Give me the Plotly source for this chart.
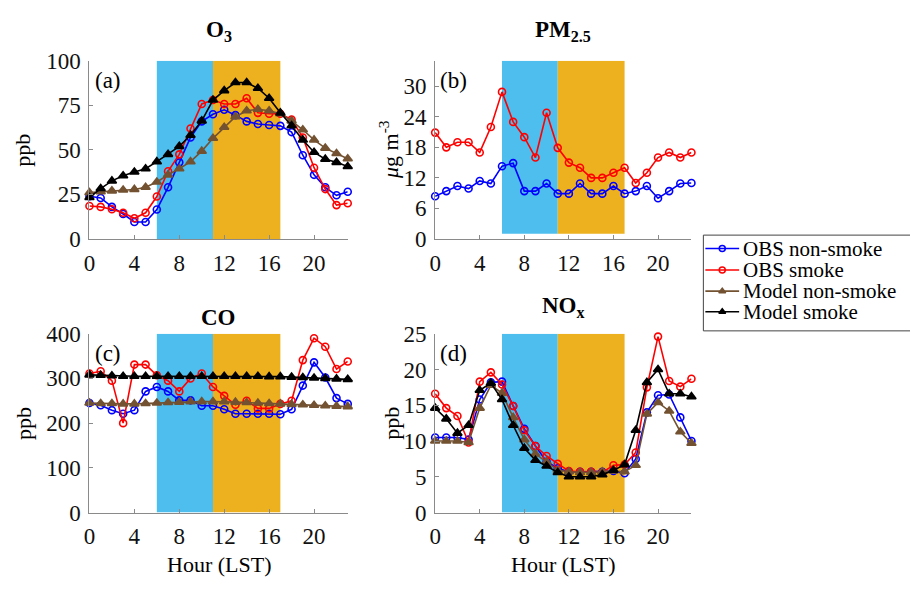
import plotly.graph_objects as go

hours = list(range(24))

# ---- O3 (ppb)
o3_obs_ns = [24, 23, 18, 14, 9.5, 9.5, 16.5, 29, 43, 57, 66, 70, 72.5, 69.5, 66, 64.5, 64, 63.5, 60, 47, 36, 29, 24.5, 26.5]
o3_obs_s = [18.5, 18, 16.7, 14.7, 11.6, 14.7, 23.8, 38, 47.5, 62, 75.8, 78, 75.8, 75.8, 79, 70.8, 70.3, 70.3, 67, 57, 40, 28, 19, 20]
o3_mod_ns = [26, 26.5, 27, 27.5, 27.8, 29, 32, 36, 39.4, 43.4, 49.3, 56.5, 62.7, 68.6, 72, 72.8, 72, 70.3, 66.3, 61.3, 55.6, 51, 48, 45]
o3_mod_s = [23.3, 28.3, 32.6, 35.5, 37.6, 39.4, 43.4, 47.5, 52, 58.2, 66.3, 78, 83.3, 87.8, 87.8, 84.6, 79, 70.8, 63.6, 55.6, 48.7, 44.8, 43, 40.7]

# ---- PM2.5 (ug m-3)
pm_obs_ns = [8.4, 9.4, 10.4, 9.9, 11.4, 10.9, 14.3, 14.9, 9.4, 9.4, 10.9, 8.9, 8.9, 10.9, 8.9, 8.9, 10.4, 8.9, 9.4, 10.4, 8.0, 9.4, 10.9, 11]
pm_obs_s = [20.9, 18, 19, 19, 17, 22, 28.9, 23, 20, 16, 24.8, 17.9, 15, 14, 12, 12, 13, 14, 11, 13, 16, 17, 16, 17]

# ---- CO (ppb)
co_obs_ns = [245, 240, 229, 221, 229, 271, 281, 271, 251, 251, 239, 239, 231, 221, 221, 221, 221, 220, 231, 284, 336, 302, 256, 243]
co_obs_s = [311, 316, 295, 200, 331, 331, 307, 295, 271, 300, 311, 281, 261, 241, 250, 233, 233, 243, 250, 341, 390, 371, 321, 338]
co_mod_ns = [245, 244, 244, 243, 243, 244, 245, 246, 247, 248, 248, 248, 248, 247, 246, 245, 244, 243, 242, 241, 240, 239, 238, 237]
co_mod_s = [308, 307, 306, 305, 305, 305, 305, 305, 305, 305, 305, 305, 305, 305, 305, 305, 304, 304, 303, 302, 301, 300, 299, 298]

# ---- NOx (ppb)
nox_obs_ns = [10.5, 10.5, 10.5, 10.2, 15.8, 18.2, 18.3, 14.9, 11.7, 9.3, 7.1, 6.2, 5.7, 5.7, 5.7, 5.7, 5.8, 5.5, 7.5, 14, 16.4, 16.5, 13.3, 10]
nox_obs_s = [16.6, 14.6, 13.5, 9.8, 18.3, 19.6, 17.9, 14.9, 11.5, 9.3, 7.9, 6.8, 5.8, 5.7, 5.7, 5.6, 6.6, 6.7, 8.4, 17.5, 24.6, 18.4, 17.6, 18.7]
nox_mod_ns = [10, 10, 10, 9.8, 14.6, 17.8, 16.7, 13.3, 10.2, 8.2, 7.1, 5.9, 5.7, 5.6, 5.6, 5.7, 5.8, 5.7, 6.6, 13.8, 15.4, 14.2, 11.3, 9.7]
nox_mod_s = [14.6, 13.1, 11.1, 12.2, 17.1, 18.1, 15.8, 12.2, 9.0, 7.3, 6.5, 5.6, 5.0, 5.0, 5.0, 5.3, 5.9, 6.7, 11.5, 18.2, 20.0, 16.6, 16.6, 16.2]

# shaded periods (hour)
morning_band = [6, 11]
afternoon_band = [11, 17]

series_names = ["OBS non-smoke", "OBS smoke", "Model non-smoke", "Model smoke"]
x_ticks = [0, 4, 8, 12, 16, 20]

FONT = "Liberation Serif, Times New Roman, serif"
C_BLUE = "#0000FF"
C_RED = "#FF0000"
C_BROWN = "#735232"
C_BLACK = "#000000"
BAND_BLUE = "#4DBEEE"
BAND_ORANGE = "#EDB120"
AXC = "#8a8a8a"
W, H = 910, 589

styles = {
    "OBS non-smoke": dict(color=C_BLUE, symbol="circle-open"),
    "OBS smoke": dict(color=C_RED, symbol="circle-open"),
    "Model non-smoke": dict(color=C_BROWN, symbol="triangle-up"),
    "Model smoke": dict(color=C_BLACK, symbol="triangle-up"),
}

panels = [
    dict(ax="", data=[o3_obs_ns, o3_obs_s, o3_mod_ns, o3_mod_s], yr=[0, 100], yt=[0, 25, 50, 75, 100],
         band=[0, 100], title="<b>O<sub>3</sub></b>", tshift=14, lab="(a)", ylab="ppb", yls=-52,
         xd=[84/W, 344/W], yd=[1-237/H, 1-51/H]),
    dict(ax="2", data=[pm_obs_ns, pm_obs_s, None, None], yr=[0, 35], yt=[0, 6, 12, 18, 24, 30],
         band=[1, 35], title="<b>PM<sub>2.5</sub></b>", tshift=14, lab="(b)",
         ylab="<i>μ</i>g m<sup>-3</sup>", yls=-30,
         xd=[432/W, 690/W], yd=[1-237/H, 1-51/H]),
    dict(ax="3", data=[co_obs_ns, co_obs_s, co_mod_ns, co_mod_s], yr=[0, 400], yt=[0, 100, 200, 300, 400],
         band=[0, 400], title="<b>CO</b>", tshift=2, lab="(c)", ylab="ppb", yls=-52,
         xd=[84/W, 344/W], yd=[1-522.7/H, 1-336/H]),
    dict(ax="4", data=[nox_obs_ns, nox_obs_s, nox_mod_ns, nox_mod_s], yr=[0, 25], yt=[0, 5, 10, 15, 20, 25],
         band=[0, 25], title="<b>NO<sub>x</sub></b>", tshift=11, lab="(d)", ylab="ppb", yls=-30,
         xd=[432/W, 690/W], yd=[1-522.7/H, 1-336/H]),
]

fig = go.Figure()
shapes = []
annotations = []

for pi, p in enumerate(panels):
    ax = p["ax"]
    xa = "x" + ax
    ya = "y" + ax
    for name, vals in zip(series_names, p["data"]):
        if vals is None:
            continue
        st = styles[name]
        is_tri = "triangle" in st["symbol"]
        fig.add_trace(go.Scatter(
            x=hours, y=vals, mode="lines+markers", name=name,
            legendgroup=name, showlegend=False,
            line=dict(color=st["color"], width=1.6),
            marker=dict(symbol=st["symbol"], size=8 if is_tri else 7, color=st["color"],
                        line=dict(width=1.6, color=st["color"])),
            cliponaxis=False, xaxis=xa, yaxis=ya,
        ))
    for band, col in [(morning_band, BAND_BLUE), (afternoon_band, BAND_ORANGE)]:
        shapes.append(dict(type="rect", xref=xa, yref=ya, x0=band[0], x1=band[1],
                           y0=p["band"][0], y1=p["band"][1], fillcolor=col,
                           line=dict(width=0), layer="below"))
    axis_common = dict(showline=True, linecolor=AXC, linewidth=1, ticks="inside", ticklen=4,
                       tickcolor=AXC, showgrid=False, zeroline=False,
                       tickfont=dict(family=FONT, size=23, color="#111"))
    fig.update_layout(**{
        "xaxis" + ax: dict(domain=p["xd"], range=[0, 23], tickvals=x_ticks,
                           anchor=ya, ticklabelstandoff=3, **axis_common),
        "yaxis" + ax: dict(domain=p["yd"], range=p["yr"], tickvals=p["yt"], anchor=xa,
                           ticklabelstandoff=3, **axis_common),
    })
    xc = (p["xd"][0] + p["xd"][1]) / 2
    annotations.append(dict(text=p["title"], xref="paper", yref="paper", x=xc, y=p["yd"][1],
                            yanchor="bottom", xanchor="center", yshift=p["tshift"], showarrow=False,
                            font=dict(family=FONT, size=23, color="black")))
    annotations.append(dict(text=p["lab"], xref=xa + " domain", yref=ya + " domain", x=0.012, y=0.89,
                            xanchor="left", yanchor="middle", showarrow=False,
                            font=dict(family=FONT, size=23, color="black")))
    annotations.append(dict(text=p["ylab"], xref="paper", yref=ya + " domain", x=p["xd"][0], y=0.5,
                            xanchor="right", yanchor="middle", xshift=p["yls"], textangle=-90,
                            showarrow=False, font=dict(family=FONT, size=22, color="black")))
    if pi >= 2:
        annotations.append(dict(text="Hour (LST)", xref="paper", yref="paper", x=xc, y=p["yd"][0],
                                xanchor="center", yanchor="top", yshift=-37, showarrow=False,
                                font=dict(family=FONT, size=22, color="black")))

# ---- custom legend (compact rows as in the reference)
leg_left, leg_top, leg_bottom = 702, 233, 333
leg_rows = [247, 269.5, 291.5, 313]
leg_glyph_x = [704, 721, 738]
fig.update_layout(
    xaxis5=dict(domain=[0, 1], range=[0, W], visible=False, fixedrange=True),
    yaxis5=dict(domain=[0, 1], range=[H, 0], visible=False, fixedrange=True, anchor="x5"),
)
shapes.append(dict(type="rect", xref="paper", yref="paper", x0=leg_left/W, x1=(W+5)/W,
                   y0=1-leg_bottom/H, y1=1-leg_top/H, line=dict(color="#444", width=1),
                   fillcolor="white", layer="below"))
for name, yc in zip(series_names, leg_rows):
    st = styles[name]
    fig.add_trace(go.Scatter(
        x=leg_glyph_x, y=[yc] * 3, mode="lines+markers", showlegend=False, hoverinfo="skip",
        line=dict(color=st["color"], width=1.6),
        marker=dict(symbol=st["symbol"], size=[0, 6, 0], opacity=[0, 1, 0], color=st["color"],
                    line=dict(width=1.5, color=st["color"])),
        xaxis="x5", yaxis="y5", cliponaxis=False,
    ))
    annotations.append(dict(text=name, xref="x5", yref="y5", x=740, y=yc, xanchor="left",
                            yanchor="middle", showarrow=False,
                            font=dict(family=FONT, size=21, color="black")))

fig.update_layout(
    width=W, height=H, margin=dict(l=0, r=0, t=0, b=0),
    paper_bgcolor="white", plot_bgcolor="rgba(0,0,0,0)",
    shapes=shapes, annotations=annotations, showlegend=False,
    font=dict(family=FONT),
)

fig.write_html("out.html")
